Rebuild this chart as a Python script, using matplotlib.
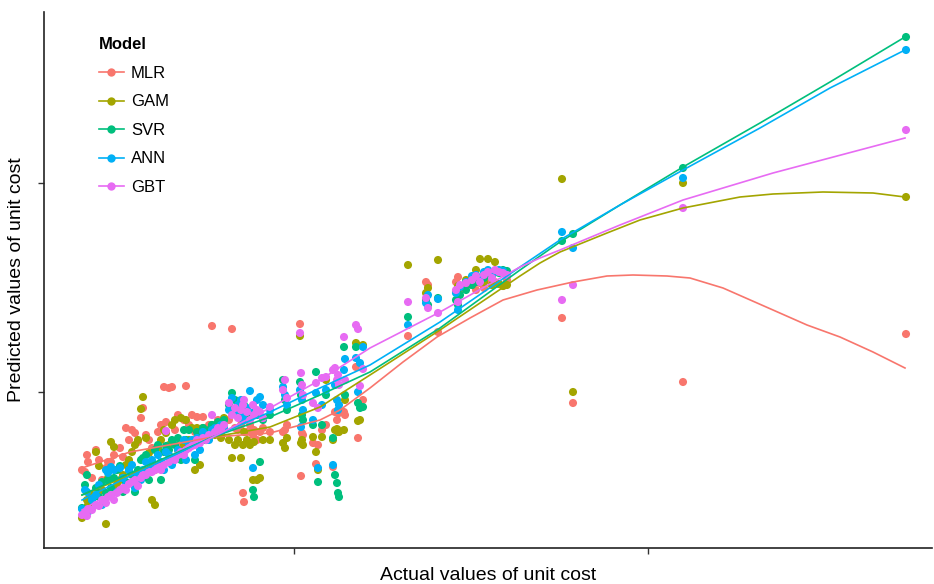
import matplotlib
matplotlib.use('Agg')
import matplotlib.pyplot as plt
from matplotlib.lines import Line2D

plt.rcParams['font.family'] = ['Liberation Sans', 'DejaVu Sans']

# actual unit cost (arbitrary units) and each model's predicted value
actual = [
    82, 85, 87, 88, 92, 96, 99, 102, 106, 108,
    111, 114, 117, 120, 123, 126, 129, 132, 135, 138,
    141, 143, 146, 149, 152, 155, 158, 161, 164, 166,
    169, 172, 175, 178, 181, 184, 186, 189, 192, 195,
    197, 200, 203, 206, 209, 212, 215, 218, 221, 224,
    229, 232, 235, 238, 241, 243, 244, 247, 250, 253,
    254, 257, 260, 263, 270, 283, 285, 287, 300, 301,
    302, 303, 313, 316, 318, 322, 326, 333, 335, 337,
    338, 339, 344, 345, 356, 358, 360, 363, 408, 426,
    428, 438, 456, 458, 460, 466, 472, 476, 480, 484,
    488, 492, 495, 499, 503, 507, 562, 573, 683, 906,
]
pred_mlr = [
    130, 128, 145, 138, 122, 150, 140, 120, 132, 138,
    138, 145, 130, 152, 143, 172, 160, 170, 167, 158,
    182, 192, 165, 160, 152, 130, 168, 175, 213, 178,
    212, 213, 170, 185, 155, 180, 214, 175, 185, 168,
    183, 170, 183, 160, 175, 274, 170, 180, 165, 175,
    180, 271, 172, 170, 175, 107, 98, 168, 175, 165,
    170, 160, 168, 172, 168, 168, 170, 175, 276, 124,
    167, 165, 157, 136, 155, 170, 175, 133, 188, 180,
    170, 187, 188, 185, 233, 162, 233, 200, 264, 318,
    315, 268, 318, 323, 310, 315, 323, 310, 317, 312,
    320, 315, 318, 316, 314, 320, 282, 197, 218, 266,
]
pred_gam = [
    82, 87, 100, 95, 105, 148, 134, 110, 76, 122,
    158, 153, 115, 120, 125, 135, 140, 148, 155, 160,
    191, 203, 162, 147, 100, 95, 152, 160, 170, 167,
    155, 175, 180, 150, 182, 155, 180, 160, 172, 130,
    172, 135, 172, 160, 168, 175, 165, 172, 162, 182,
    160, 142, 155, 160, 142, 155, 168, 160, 155, 120,
    158, 120, 122, 160, 160, 157, 152, 162, 264, 157,
    160, 155, 163, 148, 130, 163, 220, 160, 170, 171,
    168, 168, 170, 200, 257, 179, 180, 255, 335, 307,
    312, 340, 308, 314, 312, 320, 315, 330, 341, 318,
    341, 315, 338, 316, 314, 315, 421, 208, 417, 403,
]
pred_svr = [
    92, 115, 125, 90, 100, 112, 103, 118, 107, 120,
    112, 122, 130, 134, 108, 118, 130, 125, 108, 130,
    140, 142, 145, 120, 137, 150, 155, 120, 148, 154,
    150, 160, 155, 162, 140, 170, 160, 170, 155, 140,
    168, 162, 172, 160, 170, 175, 168, 178, 175, 180,
    195, 207, 200, 190, 185, 180, 195, 188, 182, 110,
    103, 185, 138, 180, 185, 220, 200, 190, 218, 205,
    185, 180, 175, 228, 118, 175, 205, 162, 125, 117,
    107, 103, 253, 205, 253, 197, 192, 193, 283, 300,
    295, 302, 300, 295, 305, 310, 315, 318, 320, 322,
    325, 324, 328, 327, 330, 329, 359, 366, 432, 563,
]
pred_ann = [
    91, 110, 108, 88, 100, 105, 115, 95, 130, 127,
    133, 130, 108, 132, 122, 115, 130, 135, 112, 125,
    120, 130, 138, 130, 140, 132, 145, 138, 130, 148,
    145, 135, 142, 150, 148, 160, 140, 155, 160, 145,
    162, 150, 168, 165, 160, 170, 172, 168, 175, 172,
    190, 202, 188, 195, 200, 185, 180, 192, 209, 132,
    188, 200, 203, 195, 190, 213, 205, 195, 210, 173,
    200, 190, 180, 207, 132, 195, 210, 135, 215, 200,
    190, 195, 230, 241, 242, 208, 237, 253, 275, 297,
    305, 301, 307, 290, 313, 318, 324, 325, 322, 328,
    330, 326, 328, 330, 329, 325, 368, 352, 422, 550,
]
pred_gbt = [
    85, 87, 84, 91, 90, 95, 94, 100, 97, 103,
    105, 100, 107, 110, 112, 110, 116, 118, 120, 114,
    122, 125, 125, 128, 128, 130, 134, 130, 135, 169,
    138, 142, 140, 145, 148, 145, 150, 152, 154, 155,
    160, 157, 162, 160, 165, 185, 168, 172, 170, 175,
    197, 185, 192, 182, 190, 195, 200, 188, 180, 195,
    185, 190, 188, 182, 193, 210, 220, 202, 267, 227,
    215, 205, 197, 217, 192, 222, 223, 230, 232, 220,
    225, 215, 263, 220, 275, 271, 214, 231, 298, 302,
    292, 287, 310, 298, 315, 317, 320, 324, 318, 325,
    328, 322, 330, 328, 327, 325, 300, 315, 392, 470,
]

# smoothed fit of each model
mlr_x = [82, 130, 213, 270, 320, 340, 370, 403, 437, 470, 503, 537, 573,
         607, 633, 667, 690, 723, 773, 807, 840, 873, 905]
mlr_y = [132, 148, 163, 167, 180, 190, 212, 238, 263, 282, 300, 310, 318,
         324, 325, 324, 322, 312, 290, 275, 263, 248, 232]
gam_x = [82, 130, 213, 270, 320, 370, 440, 520, 540, 560, 607, 640, 683,
         740, 773, 823, 873, 905]
gam_y = [105, 125, 163, 173, 193, 225, 270, 324, 337, 348, 367, 380, 392,
         403, 406, 408, 407, 403]
svr_x = [82, 130, 213, 270, 320, 370, 440, 520, 560, 620, 683, 760, 830, 905]
svr_y = [105, 127, 163, 183, 205, 228, 272, 330, 358, 395, 433, 477, 518, 563]
ann_x = [82, 130, 213, 270, 320, 370, 440, 520, 560, 620, 683, 760, 830, 905]
ann_y = [100, 124, 163, 188, 212, 235, 278, 333, 360, 395, 430, 472, 512, 550]
gbt_x = [82, 130, 213, 270, 320, 370, 440, 520, 540, 560, 620, 683, 773, 905]
gbt_y = [90, 118, 163, 192, 220, 252, 288, 333, 342, 350, 375, 400, 427, 462]

models = ['MLR', 'GAM', 'SVR', 'ANN', 'GBT']
colors = ['#F8766D', '#A3A500', '#00BF7D', '#00B0F6', '#E76BF3']
preds = [pred_mlr, pred_gam, pred_svr, pred_ann, pred_gbt]
smooths = [(mlr_x, mlr_y), (gam_x, gam_y), (svr_x, svr_y),
           (ann_x, ann_y), (gbt_x, gbt_y)]

fig = plt.figure(figsize=(9.34, 5.84), dpi=100)
ax = fig.add_axes([44 / 934, 36 / 584, 888 / 934, 536 / 584])

for pred, color in zip(preds, colors):
    ax.scatter(actual, pred, s=34, color=color, edgecolors='none', zorder=2)
for (sx, sy), color in zip(smooths, colors):
    ax.plot(sx, sy, color=color, lw=1.2, zorder=3,
            solid_joinstyle='round')

ax.set_xlim(44, 932)
ax.set_ylim(52, 588)
ax.set_xticks([294, 648])
ax.set_yticks([208, 417])
ax.set_xticklabels([])
ax.set_yticklabels([])
ax.tick_params(length=4, width=1, color='#333333')
for side in ('top', 'right'):
    ax.spines[side].set_visible(False)
for side in ('left', 'bottom'):
    ax.spines[side].set_linewidth(1.2)
    ax.spines[side].set_color('#222222')

ax.set_xlabel('Actual values of unit cost', fontsize=14, labelpad=6)
ax.set_ylabel('Predicted values of unit cost', fontsize=14, labelpad=6)

handles = [Line2D([], [], color=c, lw=1.2, marker='o', markersize=6,
                  markeredgecolor='none') for c in colors]
leg = ax.legend(handles, models, title='Model', loc='upper left',
                bbox_to_anchor=(47 / 888, 1 - 17 / 536), frameon=False,
                fontsize=12, title_fontsize=12, handlelength=1.45,
                handletextpad=0.45, labelspacing=0.81, borderpad=0,
                alignment='left')
leg.get_title().set_fontweight('bold')

plt.savefig('out.png', dpi=100)
